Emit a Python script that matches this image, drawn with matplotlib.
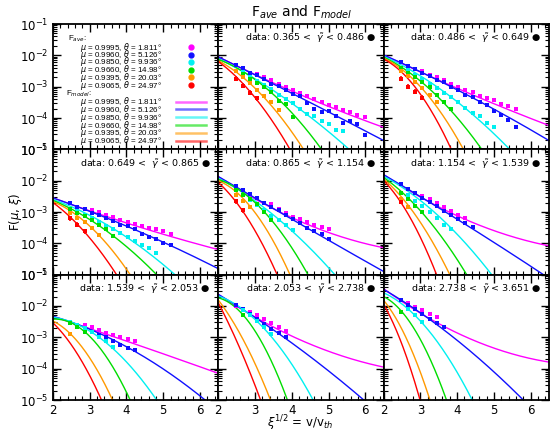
import numpy as np
import matplotlib
matplotlib.use('Agg')
import matplotlib.pyplot as plt
from matplotlib.ticker import LogLocator, MultipleLocator, NullFormatter, FixedLocator

# ---------------- data ----------------
COLORS = ['#ff00ff', '#1010ff', '#00f0f0', '#00dd00', '#ff9900', '#ff0000']
MU = ["0.9995", "0.9960", "0.9850", "0.9660", "0.9395", "0.9065"]
THETA = ["1.811", "5.126", "9.936", "14.98", "20.03", "24.97"]
GAMMA_BINS = [("0.365", "0.486"), ("0.486", "0.649"), ("0.649", "0.865"),
              ("0.865", "1.154"), ("1.154", "1.539"), ("1.539", "2.053"),
              ("2.053", "2.738"), ("2.738", "3.651")]
XI_BINS = [2.47, 2.66, 2.86, 3.05, 3.25, 3.44, 3.64, 3.83, 4.03, 4.22, 4.42,
           4.61, 4.81, 5.00, 5.20, 5.39, 5.59, 5.78, 5.98]
ERR = [0.05, 0.06, 0.05, 0.05, 0.06, 0.08]   # typical log10 error bar half-size per mu

# model curves: three (xi^1/2, log10 F) knots per mu
MODEL = [
    [[(2, -2.05), (4, -3.14), (6.5, -4.30)], [(2, -2.05), (4, -3.21), (6.5, -4.72)],
     [(2, -2.10), (4, -3.53), (5.56, -5.0)], [(2, -2.13), (3.5, -3.25), (4.81, -5.0)],
     [(2, -2.17), (3, -3.05), (4.32, -5.0)], [(2, -2.20), (3, -3.35), (3.95, -5.0)]],
    [[(2, -1.99), (4, -3.05), (6.5, -4.24)], [(2, -1.99), (4, -3.10), (6.5, -4.72)],
     [(2, -2.03), (4, -3.48), (5.43, -5.0)], [(2, -2.06), (3, -2.82), (4.67, -5.0)],
     [(2, -2.09), (3, -3.00), (4.17, -5.0)], [(2, -2.12), (3, -3.24), (3.84, -5.0)]],
    [[(2, -2.55), (4, -3.35), (6.5, -4.20)], [(2, -2.55), (4, -3.45), (6.5, -4.81)],
     [(2, -2.60), (4, -3.80), (5.32, -5.0)], [(2, -2.63), (3, -3.24), (4.82, -5.0)],
     [(2, -2.67), (3, -3.45), (4.10, -5.0)], [(2, -2.70), (3, -3.83), (3.73, -5.0)]],
    [[(2, -1.87), (4, -3.18), (6.5, -4.14)], [(2, -1.87), (4, -3.23), (6.5, -4.90)],
     [(2, -1.92), (4, -3.60), (5.17, -5.0)], [(2, -1.96), (3, -2.70), (4.44, -5.0)],
     [(2, -2.00), (3, -3.02), (3.95, -5.0)], [(2, -2.06), (3, -3.60), (3.60, -5.0)]],
    [[(2, -1.81), (4, -3.12), (6.5, -4.08)], [(2, -1.81), (4, -3.23), (6.35, -5.0)],
     [(2, -1.86), (4, -3.71), (4.94, -5.0)], [(2, -1.90), (3, -2.96), (4.26, -5.0)],
     [(2, -1.95), (3, -3.33), (3.80, -5.0)], [(2, -2.00), (2.5, -2.75), (3.44, -5.0)]],
    [[(2, -2.33), (4, -3.12), (6.5, -4.15)], [(2, -2.33), (4, -3.30), (6.14, -5.0)],
     [(2, -2.36), (3, -2.80), (4.82, -5.0)], [(2, -2.42), (3, -2.97), (4.10, -5.0)],
     [(2, -2.48), (3, -3.66), (3.62, -5.0)], [(2, -2.54), (2.5, -3.24), (3.32, -5.0)]],
    [[(2, -1.63), (4, -2.96), (6.5, -3.95)], [(2, -1.63), (4, -3.18), (5.96, -5.0)],
     [(2, -1.68), (3, -2.43), (4.58, -5.0)], [(2, -1.74), (3, -2.80), (3.88, -5.0)],
     [(2, -1.81), (2.5, -2.70), (3.42, -5.0)], [(2, -1.90), (2.5, -3.12), (3.15, -5.0)]],
    [[(2, -1.45), (4, -2.86), (6.5, -3.79)], [(2, -1.47), (3.5, -2.64), (5.8, -5.0)],
     [(2, -1.58), (3, -2.48), (4.41, -5.0)], [(2, -1.70), (3, -3.07), (3.71, -5.0)],
     [(2, -1.82), (2.5, -2.75), (3.26, -5.0)], [(2, -1.95), (2.5, -3.23), (2.99, -5.0)]],
]

# data: (first xi bin index, log10 F values) per mu, or None
DATA = [
    [(3, [-2.58, -2.70, -2.78, -2.92, -3.00, -3.12, -3.20, -3.30, -3.40, -3.48, -3.58, -3.66, -3.74, -3.80, -3.90, -3.98]),
     (0, [-2.30, -2.40, -2.55, -2.62, -2.76, -2.90, -2.98, -3.10, -3.22, -3.30, -3.52, -3.70, -3.80, -3.78, -3.95, -4.15, -4.10, -4.20, -4.55]),
     (1, [-2.52, -2.68, -2.82, -2.95, -3.08, -3.25, -3.38, -3.52, -3.70, -3.88, -3.95, -4.10, -4.20, -4.38, -4.40]),
     (1, [-2.60, -2.74, -2.88, -3.02, -3.18, -3.45, -3.55, -3.98]),
     (0, [-2.50, -2.70, -2.88, -3.12, -3.30, -3.48, -3.75]),
     (0, [-2.74, -2.97, -3.19, -3.37])],
    [(3, [-2.50, -2.62, -2.70, -2.80, -2.92, -3.02, -3.12, -3.18, -3.30, -3.36, -3.42, -3.55, -3.62, -3.72]),
     (0, [-2.22, -2.34, -2.45, -2.55, -2.66, -2.80, -2.86, -3.00, -3.10, -3.28, -3.32, -3.50, -3.58, -3.78, -3.90, -4.05, -4.30]),
     (1, [-2.48, -2.62, -2.76, -2.92, -3.05, -3.20, -3.34, -3.50, -3.68, -3.85, -3.95, -4.15, -4.30]),
     (0, [-2.40, -2.55, -2.70, -2.84, -3.02, -3.25, -3.48, -3.70]),
     (0, [-2.50, -2.66, -2.86, -3.05, -3.28, -3.48]),
     (0, [-2.74, -3.00, -3.16, -3.35])],
    [(3, [-2.95, -3.00, -3.10, -3.15, -3.25, -3.32, -3.38, -3.45, -3.50, -3.55, -3.62, -3.70]),
     (0, [-2.72, -2.84, -2.92, -3.02, -3.10, -3.20, -3.28, -3.40, -3.45, -3.55, -3.70, -3.80, -3.85, -4.00, -4.05]),
     (1, [-2.96, -3.08, -3.20, -3.32, -3.45, -3.55, -3.68, -3.80, -3.92, -4.05, -4.15, -4.30]),
     (0, [-2.90, -3.02, -3.14, -3.25, -3.42, -3.55, -3.75]),
     (0, [-3.02, -3.18, -3.33, -3.50, -3.72]),
     (0, [-3.20, -3.40, -3.62])],
    [(5, [-2.76, -2.90, -3.02, -3.15, -3.22, -3.32, -3.42, -3.48, -3.55]),
     (0, [-2.17, -2.30, -2.44, -2.55, -2.70, -2.84, -2.95, -3.08, -3.22, -3.36, -3.50, -3.62, -3.70, -3.85]),
     (1, [-2.46, -2.62, -2.78, -2.95, -3.12, -3.25, -3.42, -3.58]),
     (0, [-2.30, -2.45, -2.58, -2.75, -3.00, -3.25]),
     (0, [-2.45, -2.65, -2.85]),
     (0, [-2.66, -2.95])],
    [(3, [-2.48, -2.60, -2.72, -2.85, -2.97, -3.08, -3.18]),
     (0, [-2.12, -2.26, -2.40, -2.55, -2.68, -2.82, -2.96, -3.08, -3.22, -3.36, -3.48]),
     (1, [-2.45, -2.64, -2.82, -3.00, -3.20, -3.40, -3.55]),
     (0, [-2.38, -2.58, -2.80, -3.00]),
     (0, [-2.58, -2.84]),
     (0, [-2.68])],
    [(2, [-2.62, -2.68, -2.78, -2.85, -2.92, -3.00, -3.05, -3.12]),
     (0, [-2.55, -2.64, -2.72, -2.82, -2.92, -3.00, -3.12, -3.25, -3.35, -3.42]),
     (0, [-2.52, -2.60, -2.70, -2.82, -2.98, -3.12, -3.30]),
     (0, [-2.55, -2.66, -2.82]),
     (0, [-2.90]),
     None],
    [(0, [-2.00, -2.08, -2.18, -2.30, -2.43, -2.54, -2.68, -2.80]),
     (0, [-1.97, -2.11, -2.24, -2.40, -2.56, -2.72, -2.86, -3.00]),
     (1, [-2.12, -2.30, -2.48, -2.66, -2.88]),
     (1, [-2.30]),
     None, None],
    [(0, [-1.80, -1.90, -2.02, -2.14, -2.25, -2.36]),
     (0, [-1.82, -1.96, -2.10, -2.24, -2.40, -2.54, -2.68]),
     (1, [-2.10, -2.30, -2.52]),
     (0, [-2.20]),
     None, None],
]

# ---------------- figure ----------------
W, H = 550, 432
fig = plt.figure(figsize=(W / 100, H / 100), dpi=100)
L, R, T, B = 53, 549, 24, 400
cw = (R - L) / 3.0
rh = (B - T) / 3.0

axes = {}
for r in range(3):
    for c in range(3):
        ax = fig.add_axes([(L + c * cw) / W, 1 - (T + (r + 1) * rh) / H, cw / W, rh / H])
        ax.set_yscale('log')
        ax.set_xlim(2, 6.5)
        ax.set_ylim(1e-5, 1e-1)
        ax.xaxis.set_major_locator(FixedLocator([2, 3, 4, 5, 6]))
        ax.xaxis.set_minor_locator(MultipleLocator(0.2))
        ax.yaxis.set_major_locator(LogLocator(base=10, numticks=10))
        ax.yaxis.set_minor_locator(LogLocator(base=10, subs=np.arange(2, 10), numticks=20))
        ax.yaxis.set_minor_formatter(NullFormatter())
        ax.tick_params(which='both', direction='in', top=True, right=True,
                       labelleft=(c == 0), labelbottom=(r == 2), labelsize=8.5, pad=3)
        ax.tick_params(which='major', length=6, width=1.0)
        ax.tick_params(which='minor', length=3, width=0.8)
        for s in ax.spines.values():
            s.set_linewidth(1.3)
        axes[(r, c)] = ax

xx = np.linspace(2, 6.5, 300)
panel_axes = [axes[(0, 1)], axes[(0, 2)], axes[(1, 0)], axes[(1, 1)], axes[(1, 2)],
              axes[(2, 0)], axes[(2, 1)], axes[(2, 2)]]
for p, ax in enumerate(panel_axes):
    for k in range(6):
        kx = [q[0] for q in MODEL[p][k]]
        ky = [q[1] for q in MODEL[p][k]]
        coef = np.polyfit(kx, ky, 2)
        ax.plot(xx, 10 ** np.polyval(coef, xx), color=COLORS[k], lw=1.0, zorder=2)
    for k in range(6):
        d = DATA[p][k]
        if d is None:
            continue
        i0, vals = d
        xs = np.array(XI_BINS[i0:i0 + len(vals)])
        ys = np.array(vals)
        yv = 10 ** ys
        lo = yv - 10 ** (ys - ERR[k])
        hi = 10 ** (ys + ERR[k]) - yv
        ax.errorbar(xs, yv, yerr=[lo, hi], fmt='s', ms=2.3, mew=0, color=COLORS[k],
                    elinewidth=1.2, capsize=0, zorder=3)
    lo_s, hi_s = GAMMA_BINS[p]
    ax.text(0.955, 0.885, "data: %s <  $\\tilde{\\gamma}$ < %s \u25CF" % (lo_s, hi_s),
            transform=ax.transAxes, ha='right', va='center', fontsize=6.8)

# legend panel (top-left)
def fx(px):
    return px / W

def fy(py):
    return 1 - py / H

LEG_FONT = dict(fontsize=5.8, family='Liberation Sans', va='center')
fig.text(fx(68), fy(39), "F$_{ave}$:", **LEG_FONT)
rows_ave = [47, 54.5, 62, 69.5, 77.3, 85]
rows_mod = [101.7, 109.3, 117.3, 125, 132.7, 140.7]
for k in range(6):
    lab = "$\\mu$ = %s, $\\theta$ = %s\u00B0" % (MU[k], THETA[k])
    fig.text(fx(80), fy(rows_ave[k]), lab, **LEG_FONT)
    fig.add_artist(plt.Line2D([fx(191)], [fy(rows_ave[k])], marker='o', ms=3.5,
                              color=COLORS[k], transform=fig.transFigure))
fig.text(fx(66), fy(94), "F$_{model}$:", **LEG_FONT)
for k in range(6):
    lab = "$\\mu$ = %s, $\\theta$ = %s\u00B0" % (MU[k], THETA[k])
    fig.text(fx(80), fy(rows_mod[k]), lab, **LEG_FONT)
    fig.add_artist(plt.Line2D([fx(176), fx(206)], [fy(rows_mod[k])] * 2, lw=1.8,
                              color=COLORS[k], alpha=0.6, transform=fig.transFigure))

fig.text(fx(302), fy(12), "F$_{ave}$ and F$_{model}$", fontsize=10, ha='center', va='center')
fig.text(fx(15), fy(212), "F($\\mu$, $\\xi$)", fontsize=8.5, rotation=90, ha='center', va='center')
fig.text(fx(300), fy(423), "$\\xi^{1/2}$ = v/v$_{th}$", fontsize=8.5, ha='center', va='center')

fig.savefig('out.png', dpi=100)
